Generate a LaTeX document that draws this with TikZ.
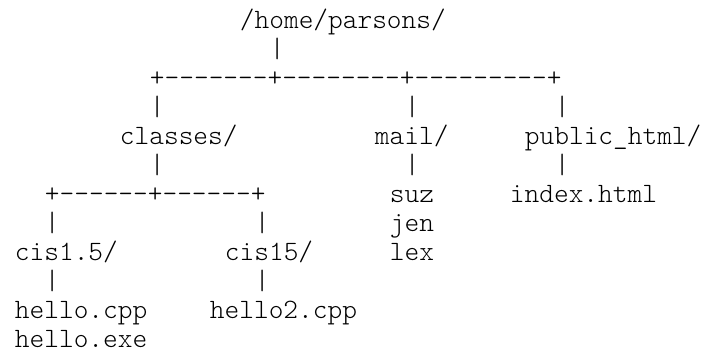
\documentclass[tikz,border=0pt]{standalone}
\usepackage{tikz}
\usepackage{fontspec}
\setmonofont{lmmonolt10-regular.otf}

\begin{document}
\begin{tikzpicture}[x=7.5pt,y=-14.5pt,every node/.style={anchor=base west,inner sep=0pt,font=\fontsize{14.0}{17}\selectfont\ttfamily}]
			\useasboundingbox (0,0) rectangle (47,12.414);
			\node (home)at(15.97,0.98) {/home/parsons/};
			\node (b1)at(17.97,1.98) {|};
			\node (f1)at(9.97,2.98) {+-------+--------+---------+};
			\node (b2)at(9.97,3.98) {|};
			\node (b3)at(26.97,3.98) {|};
			\node (b4)at(36.97,3.98) {|};
			\node (classes)at(7.97,4.98) {classes/};
			\node (mail)at(24.97,4.98) {mail/};
			\node (pub)at(34.97,4.98) {public\_html/};
			\node (b5)at(9.97,5.98) {|};
			\node (b6)at(26.97,5.98) {|};
			\node (b7)at(36.97,5.98) {|};
			\node (f2)at(2.97,6.98) {+------+------+};
			\node (suz)at(25.97,6.98) {suz};
			\node (index)at(33.97,6.98) {index.html};
			\node (b8)at(2.97,7.98) {|};
			\node (b9)at(16.97,7.98) {|};
			\node (jen)at(25.97,7.98) {jen};
			\node (cis1)at(0.97,8.98) {cis1.5/};
			\node (cis2)at(14.97,8.98) {cis15/};
			\node (lex)at(25.97,8.98) {lex};
			\node (b10)at(2.97,9.98) {|};
			\node (b11)at(16.97,9.98) {|};
			\node (hello1)at(0.97,10.98) {hello.cpp};
			\node (hello2)at(13.97,10.98) {hello2.cpp};
			\node (hello3)at(0.97,11.98) {hello.exe};
		\end{tikzpicture}
\end{document}
